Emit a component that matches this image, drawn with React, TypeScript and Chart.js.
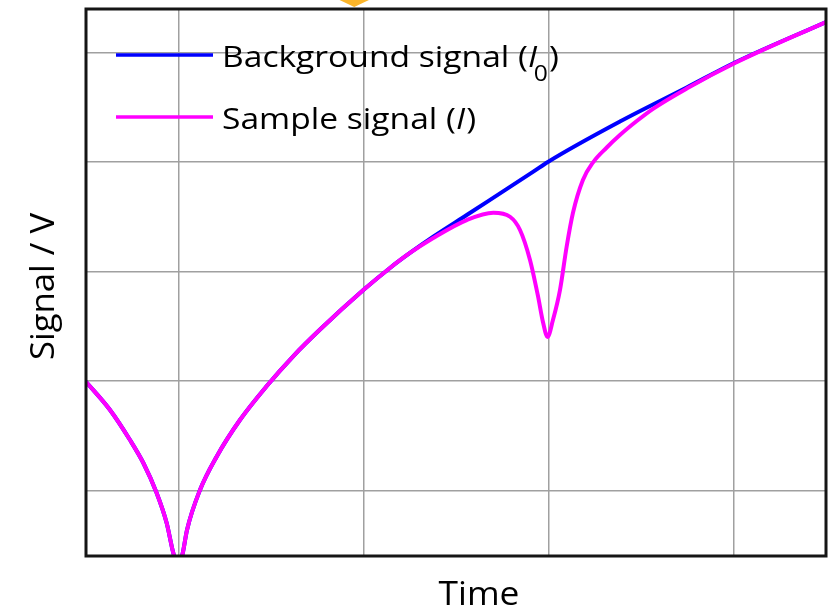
import { useEffect, useRef } from 'react';
import { Chart, registerables } from 'chart.js';

Chart.register(...registerables);

// ---- data (x: time units 0..4, y: signal units 0..5) ----
const backgroundX = [0, 0.13, 0.238, 0.31, 0.382, 0.436, 0.472, 0.5, 0.523, 0.546, 0.616, 0.706, 0.832, 0.977, 1.121, 1.265, 1.499, 1.643, 1.751, 1.877, 2.058, 2.238, 2.418, 2.499, 2.886, 3.247, 3.508, 4.0];
const backgroundY = [1.593, 1.335, 1.06, 0.85, 0.576, 0.302, 0.027, -0.1, 0.027, 0.238, 0.603, 0.908, 1.243, 1.554, 1.828, 2.07, 2.431, 2.633, 2.77, 2.919, 3.117, 3.315, 3.513, 3.604, 3.971, 4.282, 4.511, 4.881];

const sampleX = [0, 0.13, 0.238, 0.31, 0.382, 0.436, 0.472, 0.5, 0.523, 0.546, 0.616, 0.706, 0.832, 0.977, 1.121, 1.265, 1.499, 1.643, 1.751, 1.877, 2.058, 2.202, 2.292, 2.346, 2.4, 2.443, 2.47, 2.495, 2.524, 2.562, 2.598, 2.632, 2.686, 2.742, 2.815, 2.886, 2.977, 3.067, 3.247, 3.508, 4.0];
const sampleY = [1.593, 1.335, 1.06, 0.85, 0.576, 0.302, 0.027, -0.1, 0.027, 0.238, 0.603, 0.908, 1.243, 1.554, 1.828, 2.07, 2.431, 2.633, 2.77, 2.907, 3.071, 3.138, 3.101, 2.98, 2.706, 2.377, 2.139, 2.002, 2.157, 2.431, 2.827, 3.135, 3.437, 3.601, 3.734, 3.848, 3.976, 4.09, 4.273, 4.506, 4.881];

const xGridTicks = [0.5, 1.5, 2.5, 3.5];
const yGridTicks = [0.6, 1.6, 2.6, 3.6, 4.6];

const seriesNames = ['Background signal', 'Sample signal'];
const seriesSymbols = ['I', 'I'];
const seriesSubscripts = ['0', ''];
const seriesColors = ['#0000ff', '#ff00ff'];

const xTitle = 'Time';
const yTitle = 'Signal / V';

const markerX = [1.45];

const FONT = '"Open Sans", "Noto Sans", sans-serif';

const decorPlugin = {
  id: 'decor',
  afterDatasetsDraw(chart: any) {
    const { ctx, chartArea: a } = chart;
    ctx.save();
    ctx.strokeStyle = '#151515';
    ctx.lineWidth = 3;
    ctx.strokeRect(a.left, a.top, a.right - a.left, a.bottom - a.top);
    ctx.restore();
  },
  afterDraw(chart: any) {
    const { ctx, chartArea: a, scales } = chart;
    ctx.save();
    // legend
    const legendSize = 30;
    const sx = 1.12;
    seriesNames.forEach((name, i) => {
      const ly = a.top + 46 + i * 62;
      ctx.strokeStyle = seriesColors[i];
      ctx.lineWidth = 3.5;
      ctx.beginPath();
      ctx.moveTo(a.left + 30, ly);
      ctx.lineTo(a.left + 127, ly);
      ctx.stroke();
      ctx.save();
      ctx.translate(a.left + 136, ly + 12);
      ctx.scale(sx, 1);
      let tx = 0;
      ctx.fillStyle = '#000';
      ctx.textBaseline = 'alphabetic';
      ctx.textAlign = 'left';
      ctx.font = `${legendSize}px ${FONT}`;
      const t1 = name + ' (';
      ctx.fillText(t1, tx, 0);
      tx += ctx.measureText(t1).width;
      ctx.font = `italic ${legendSize}px ${FONT}`;
      ctx.fillText(seriesSymbols[i], tx, 0);
      tx += ctx.measureText(seriesSymbols[i]).width;
      if (seriesSubscripts[i]) {
        ctx.font = `${Math.round(legendSize * 0.72)}px ${FONT}`;
        ctx.fillText(seriesSubscripts[i], tx - 3, 13.5);
        tx += ctx.measureText(seriesSubscripts[i]).width - 3;
      }
      ctx.font = `${legendSize}px ${FONT}`;
      ctx.fillText(')', tx + 1, 0);
      ctx.restore();
    });
    // axis titles
    ctx.fillStyle = '#000';
    ctx.font = `33px ${FONT}`;
    ctx.textAlign = 'center';
    ctx.textBaseline = 'alphabetic';
    ctx.save();
    ctx.translate(479, 605);
    ctx.scale(1.07, 1);
    ctx.fillText(xTitle, 0, 0);
    ctx.restore();
    ctx.save();
    ctx.translate(54, 286.5);
    ctx.rotate(-Math.PI / 2);
    ctx.scale(1.05, 1);
    ctx.fillText(yTitle, 0, 0);
    ctx.restore();
    // orange marker at top edge
    const mx = scales.x.getPixelForValue(markerX[0]);
    const tip = a.top - 2;
    ctx.fillStyle = '#fbb52a';
    ctx.beginPath();
    ctx.moveTo(mx, tip);
    ctx.lineTo(mx - 21, tip - 10);
    ctx.lineTo(mx + 21, tip - 10);
    ctx.closePath();
    ctx.fill();
    ctx.restore();
  },
};

export default function App() {
  const ref = useRef<HTMLCanvasElement | null>(null);
  useEffect(() => {
    if (!ref.current) return;
    const chart = new Chart(ref.current, {
      type: 'line',
      data: {
        datasets: [
          {
            label: seriesNames[1],
            data: sampleX.map((x, i) => ({ x, y: sampleY[i] })),
            borderColor: seriesColors[1],
            order: 0,
          },
          {
            label: seriesNames[0],
            data: backgroundX.map((x, i) => ({ x, y: backgroundY[i] })),
            borderColor: seriesColors[0],
            order: 1,
          },
        ],
      },
      options: {
        animation: false,
        responsive: true,
        maintainAspectRatio: false,
        layout: { padding: { left: 86, top: 9, right: 7, bottom: 53 } },
        plugins: { legend: { display: false }, tooltip: { enabled: false } },
        elements: {
          point: { radius: 0 },
          line: { borderWidth: 4, cubicInterpolationMode: 'monotone', fill: false },
        },
        scales: {
          x: {
            type: 'linear',
            min: 0,
            max: 4,
            afterBuildTicks: (s: any) => {
              s.ticks = xGridTicks.map((v) => ({ value: v }));
            },
            afterFit: (s: any) => {
              s.height = 0;
            },
            ticks: { display: false },
            grid: { color: '#a0a0a0', lineWidth: 1.5, drawTicks: false },
            border: { display: false },
          },
          y: {
            type: 'linear',
            min: 0,
            max: 5,
            afterBuildTicks: (s: any) => {
              s.ticks = yGridTicks.map((v) => ({ value: v }));
            },
            afterFit: (s: any) => {
              s.width = 0;
            },
            ticks: { display: false },
            grid: { color: '#a0a0a0', lineWidth: 1.5, drawTicks: false },
            border: { display: false },
          },
        },
      } as any,
      plugins: [decorPlugin],
    });
    return () => chart.destroy();
  }, []);
  return (
    <div style={{ position: 'fixed', left: 0, top: 0, width: 833, height: 609, background: '#fff' }}>
      <canvas ref={ref} />
    </div>
  );
}
